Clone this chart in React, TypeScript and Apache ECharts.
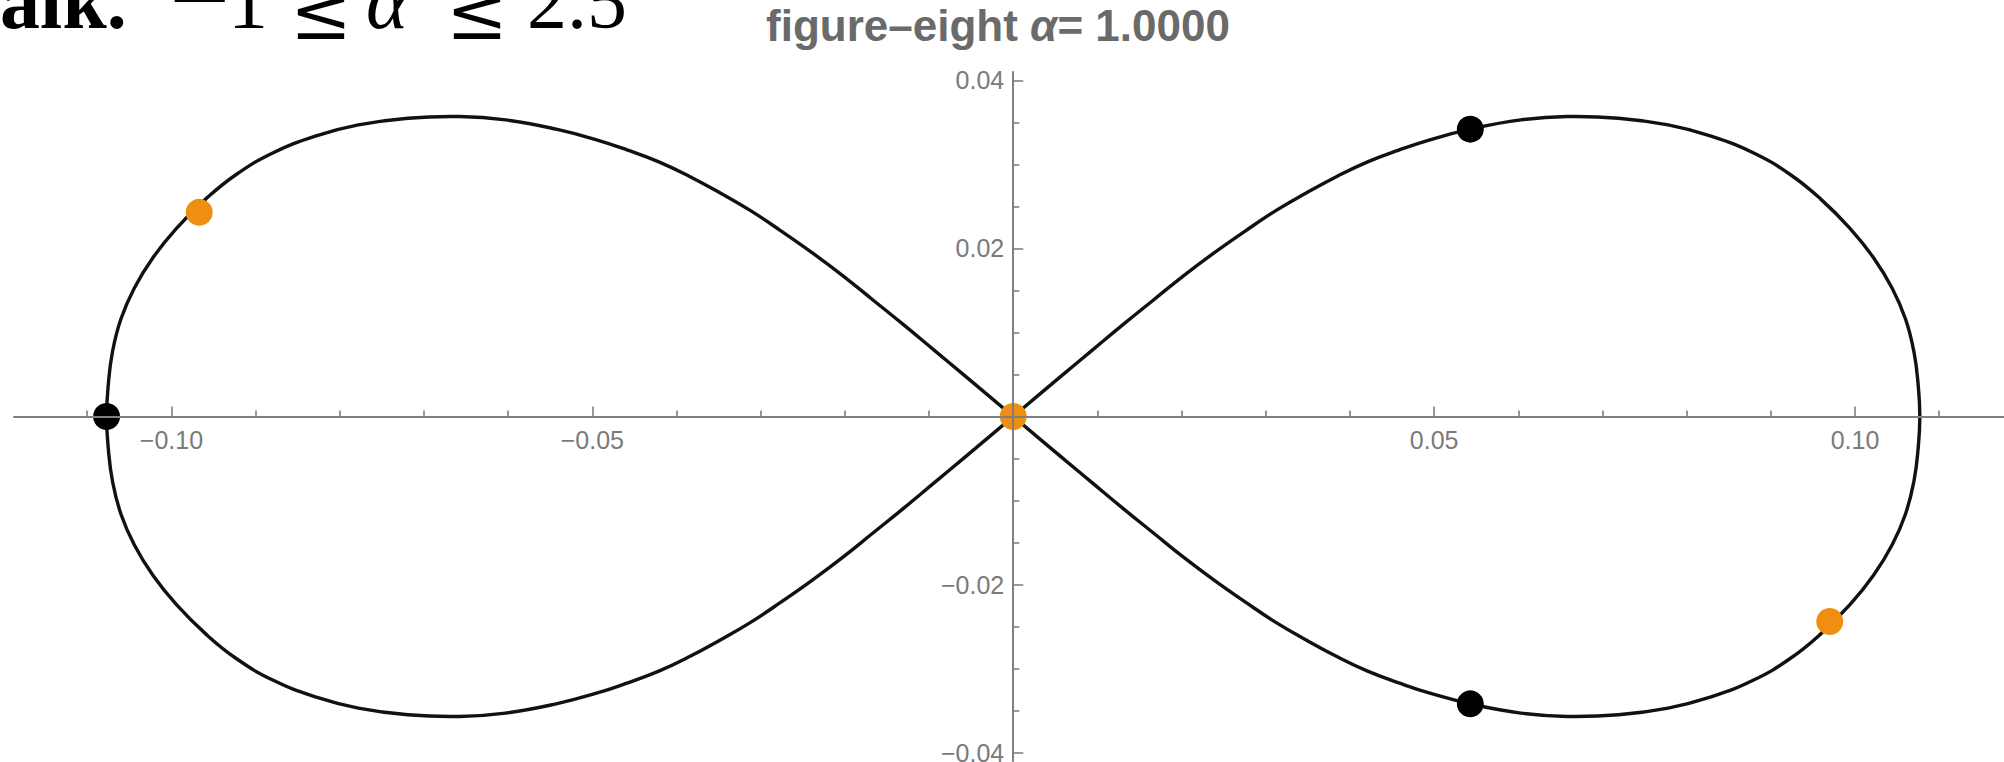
import React, { useEffect, useRef } from 'react';
import * as echarts from 'echarts';

// Orbit of the figure-eight choreography, traced lobe by lobe (x, y)
const rightUpper: [number, number][] = [
  [0, 0], [0.0058, 0.0049], [0.0094, 0.0079], [0.013, 0.0109], [0.0167, 0.0139],
  [0.0203, 0.0168], [0.0239, 0.0195], [0.0276, 0.0221], [0.0312, 0.0245], [0.0348, 0.0266],
  [0.0385, 0.0286], [0.0421, 0.0303], [0.0458, 0.0317], [0.0494, 0.0329], [0.0543, 0.0342],
  [0.0603, 0.0353], [0.0658, 0.0357], [0.0719, 0.0355], [0.0778, 0.0347], [0.0828, 0.0334],
  [0.0879, 0.0314], [0.0923, 0.0288], [0.0959, 0.0259], [0.0994, 0.0224], [0.1022, 0.0189],
  [0.1044, 0.0153], [0.106, 0.0116], [0.107, 0.0077], [0.1075, 0.0038], [0.1077, 0],
];
const rightLower: [number, number][] = [
  [0.1075, -0.0038], [0.107, -0.0077], [0.106, -0.0116], [0.1044, -0.0153], [0.1022, -0.0189],
  [0.0994, -0.0224], [0.0959, -0.0259], [0.0923, -0.0288], [0.0879, -0.0314], [0.0828, -0.0334],
  [0.0778, -0.0347], [0.0719, -0.0355], [0.0658, -0.0357], [0.0603, -0.0353], [0.0543, -0.0342],
  [0.0494, -0.0329], [0.0458, -0.0317], [0.0421, -0.0303], [0.0385, -0.0286], [0.0348, -0.0266],
  [0.0312, -0.0245], [0.0276, -0.0221], [0.0239, -0.0195], [0.0203, -0.0168], [0.0167, -0.0139],
  [0.013, -0.0109], [0.0094, -0.0079], [0.0058, -0.0049], [0, 0],
];
const leftUpper: [number, number][] = [
  [-0.0058, 0.0049], [-0.0094, 0.0079], [-0.013, 0.0109], [-0.0167, 0.0139], [-0.0203, 0.0168],
  [-0.0239, 0.0195], [-0.0276, 0.0221], [-0.0312, 0.0245], [-0.0348, 0.0266], [-0.0385, 0.0286],
  [-0.0421, 0.0303], [-0.0458, 0.0317], [-0.0494, 0.0329], [-0.0543, 0.0342], [-0.0603, 0.0353],
  [-0.0658, 0.0357], [-0.0719, 0.0355], [-0.0778, 0.0347], [-0.0828, 0.0334], [-0.0879, 0.0314],
  [-0.0923, 0.0288], [-0.0959, 0.0259], [-0.0994, 0.0224], [-0.1022, 0.0189], [-0.1044, 0.0153],
  [-0.106, 0.0116], [-0.107, 0.0077], [-0.1075, 0.0038], [-0.1077, 0],
];
const leftLower: [number, number][] = [
  [-0.1075, -0.0038], [-0.107, -0.0077], [-0.106, -0.0116], [-0.1044, -0.0153], [-0.1022, -0.0189],
  [-0.0994, -0.0224], [-0.0959, -0.0259], [-0.0923, -0.0288], [-0.0879, -0.0314], [-0.0828, -0.0334],
  [-0.0778, -0.0347], [-0.0719, -0.0355], [-0.0658, -0.0357], [-0.0603, -0.0353], [-0.0543, -0.0342],
  [-0.0494, -0.0329], [-0.0458, -0.0317], [-0.0421, -0.0303], [-0.0385, -0.0286], [-0.0348, -0.0266],
  [-0.0312, -0.0245], [-0.0276, -0.0221], [-0.0239, -0.0195], [-0.0203, -0.0168], [-0.0167, -0.0139],
  [-0.013, -0.0109], [-0.0094, -0.0079], [-0.0058, -0.0049], [0, 0],
];

// Body positions
const orangeBodies: [number, number][] = [[0, 0], [-0.0967, 0.0243], [0.097, -0.0244]];
const blackBodies: [number, number][] = [[-0.1077, 0], [0.0543, 0.0342], [0.0543, -0.0342]];

// Axis ticks
const xMajorTicks = [-0.1, -0.05, 0.05, 0.1];
const xMinorTicks = [-0.11, -0.09, -0.08, -0.07, -0.06, -0.04, -0.03, -0.02, -0.01,
  0.01, 0.02, 0.03, 0.04, 0.06, 0.07, 0.08, 0.09, 0.11];
const yMajorTicks = [-0.04, -0.02, 0.02, 0.04];
const yMinorTicks = [-0.035, -0.03, -0.025, -0.015, -0.01, -0.005,
  0.005, 0.01, 0.015, 0.025, 0.03, 0.035];

const xRange = [-0.1187, 0.1177];
const yRange = [-0.041, 0.041];

const titleText = 'figure–eight ';
const titleAlpha = 'α';
const titleValue = '= 1.0000';

const AXIS_GRAY = '#7f7f7f';
const LABEL_GRAY = '#7a7a7a';

// Plot frame in pixels
const GRID = { left: 14, right: 0, top: 72, bottom: 1 };
const W = 2004;
const H = 762;

const fmt = (v: number) => {
  const s = Math.abs(v).toFixed(2);
  return v < 0 ? '\u2212' + s : s;
};

export default function App() {
  const ref = useRef<HTMLDivElement>(null);

  useEffect(() => {
    if (!ref.current) return;
    const chart = echarts.init(ref.current, null, { renderer: 'svg' });
    // closed loop: the last point repeats the first
    const orbit = [...rightUpper, ...rightLower, ...leftUpper, ...leftLower].slice(0, -1);

    // axes cross at the data origin; place them there by offsetting from the frame edges
    const gw = W - GRID.left - GRID.right;
    const gh = H - GRID.top - GRID.bottom;
    const zeroX = ((0 - xRange[0]) / (xRange[1] - xRange[0])) * gw; // from grid left
    const zeroY = ((yRange[1] - 0) / (yRange[1] - yRange[0])) * gh; // from grid top

    const labelStyle = {
      color: LABEL_GRAY,
      fontFamily: 'Liberation Sans, Arial, sans-serif',
      fontSize: 25,
      formatter: (v: number) => fmt(v),
    };

    const serif = '"Liberation Serif", serif';
    const symbolFont = '"DejaVu Serif", serif';

    chart.setOption({
      animation: false,
      backgroundColor: '#ffffff',
      grid: { ...GRID, containLabel: false, outerBoundsMode: 'none' },
      xAxis: [
        {
          type: 'value', min: xRange[0], max: xRange[1], position: 'bottom',
          offset: -(gh - zeroY), z: 5,
          axisLine: { show: true, onZero: false, lineStyle: { color: AXIS_GRAY, width: 2 } },
          axisTick: { show: true, inside: true, length: 10, customValues: xMajorTicks, lineStyle: { color: AXIS_GRAY, width: 1.6 } },
          axisLabel: { show: true, customValues: xMajorTicks, margin: 11, ...labelStyle },
          splitLine: { show: false },
        },
        {
          type: 'value', min: xRange[0], max: xRange[1], position: 'top',
          offset: -zeroY, z: 5,
          axisLine: { show: false, onZero: false },
          axisTick: { show: true, inside: false, length: 6, customValues: xMinorTicks, lineStyle: { color: AXIS_GRAY, width: 1.6 } },
          axisLabel: { show: false },
          splitLine: { show: false },
        },
      ],
      yAxis: [
        {
          type: 'value', min: yRange[0], max: yRange[1], position: 'left',
          offset: -zeroX, z: 5,
          axisLine: { show: true, onZero: false, lineStyle: { color: AXIS_GRAY, width: 2 } },
          axisTick: { show: true, inside: true, length: 10, customValues: yMajorTicks, lineStyle: { color: AXIS_GRAY, width: 1.6 } },
          axisLabel: { show: true, customValues: yMajorTicks, margin: 9, ...labelStyle },
          splitLine: { show: false },
        },
        {
          type: 'value', min: yRange[0], max: yRange[1], position: 'right',
          offset: -(gw - zeroX), z: 5,
          axisLine: { show: false, onZero: false },
          axisTick: { show: true, inside: false, length: 6, customValues: yMinorTicks, lineStyle: { color: AXIS_GRAY, width: 1.6 } },
          axisLabel: { show: false },
          splitLine: { show: false },
        },
      ],
      series: [
        {
          // the orbit as one smooth closed curve through the traced points
          type: 'custom',
          xAxisIndex: 0,
          yAxisIndex: 0,
          data: [[0, 0]],
          clip: false,
          z: 2,
          renderItem: (_params: any, api: any) => ({
            type: 'polygon',
            shape: {
              points: orbit.map((p) => api.coord(p)),
              smooth: 0.45,
            },
            style: { fill: 'none', stroke: '#111111', lineWidth: 3.4 },
          }),
        },
        {
          type: 'scatter',
          data: blackBodies,
          xAxisIndex: 0,
          yAxisIndex: 0,
          symbolSize: 27,
          itemStyle: { color: '#000000', opacity: 1 },
          z: 3,
        },
        {
          type: 'scatter',
          data: orangeBodies,
          xAxisIndex: 0,
          yAxisIndex: 0,
          symbolSize: 27,
          itemStyle: { color: '#EF8E10', opacity: 1 },
          z: 3,
        },
      ],
      graphic: [
        {
          type: 'text',
          x: 998,
          y: 25,
          style: {
            text: `{a|${titleText}}{b|${titleAlpha}}{a|${titleValue}}`,
            align: 'center',
            verticalAlign: 'middle',
            rich: {
              a: { fontFamily: 'Liberation Sans, Arial, sans-serif', fontWeight: 'bold', fontSize: 44, fill: '#6a6a6a' },
              b: { fontFamily: 'Liberation Sans, Arial, sans-serif', fontWeight: 'bold', fontStyle: 'italic', fontSize: 44, fill: '#6a6a6a' },
            },
          },
        },
        {
          type: 'text', x: 0, y: 1,
          style: { text: 'alk.', font: `bold 80px ${serif}`, fill: '#000', verticalAlign: 'middle' },
        },
        {
          type: 'text', x: 166, y: -4,
          style: { text: '\u2212', font: `80px ${symbolFont}`, fill: '#000', verticalAlign: 'middle' },
        },
        {
          type: 'text', x: 228, y: 1,
          style: { text: '1', font: `80px ${serif}`, fill: '#000', verticalAlign: 'middle' },
        },
        {
          type: 'text', x: 290, y: 13,
          style: { text: '≤', font: `74px ${symbolFont}`, fill: '#000', verticalAlign: 'middle' },
        },
        {
          type: 'text', x: 366, y: 1,
          style: { text: 'α', font: `italic 80px ${serif}`, fill: '#000', verticalAlign: 'middle' },
        },
        {
          type: 'text', x: 446, y: 13,
          style: { text: '≤', font: `74px ${symbolFont}`, fill: '#000', verticalAlign: 'middle' },
        },
        {
          type: 'text', x: 527, y: 1,
          style: { text: '2.5', font: `80px ${serif}`, fill: '#000', verticalAlign: 'middle' },
        },
      ],
    });

    return () => chart.dispose();
  }, []);

  return (
    <div
      ref={ref}
      style={{ position: 'fixed', left: 0, top: 0, width: W, height: H, background: '#fff' }}
    />
  );
}
